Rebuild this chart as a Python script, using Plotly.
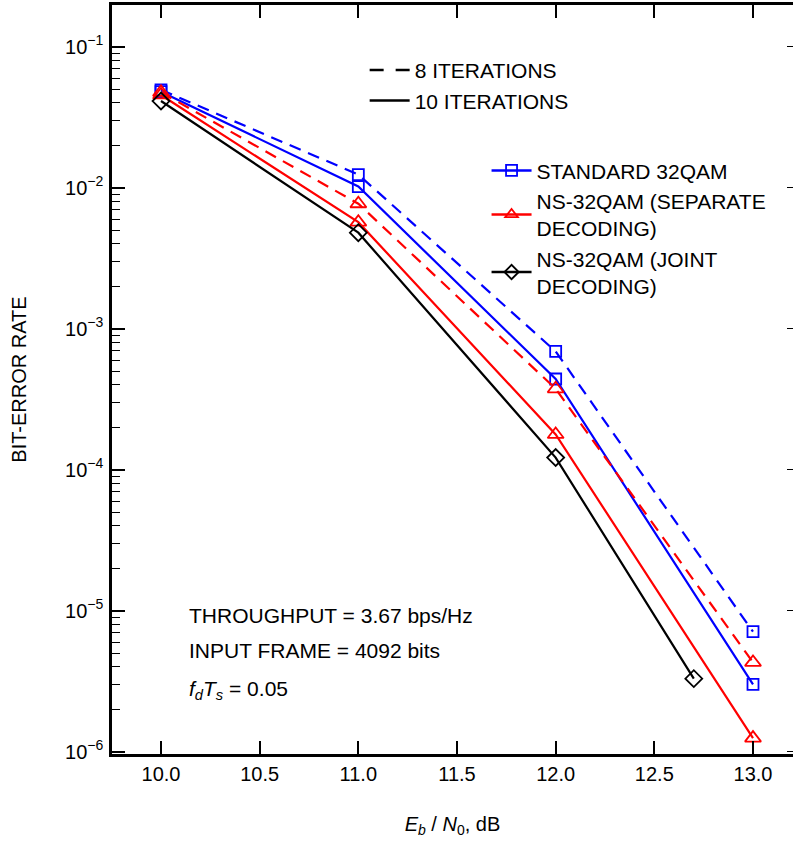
import plotly.graph_objects as go

# Eb/N0 (dB) and BER values
ebn0 = [10.0, 11.0, 12.0, 13.0]
ebn0_joint = [10.0, 11.0, 12.0, 12.7]

std_8 = [0.0495, 0.0124, 6.9e-4, 7.1e-6]
std_10 = [0.0480, 0.0102, 4.4e-4, 3.0e-6]
sep_8 = [0.0475, 0.0077, 3.75e-4, 4.3e-6]
sep_10 = [0.0455, 0.0057, 1.78e-4, 1.25e-6]
joint_10 = [0.0412, 0.0048, 1.22e-4, 3.3e-6]

y_tickvals = [1e-1, 1e-2, 1e-3, 1e-4, 1e-5, 1e-6]
y_ticktext = ["10<sup>−1</sup>", "10<sup>−2</sup>", "10<sup>−3</sup>",
              "10<sup>−4</sup>", "10<sup>−5</sup>", "10<sup>−6</sup>"]
x_tickvals = [10.0, 10.5, 11.0, 11.5, 12.0, 12.5, 13.0]
x_ticktext = ["10.0", "10.5", "11.0", "11.5", "12.0", "12.5", "13.0"]

BLUE = "#0000ff"
RED = "#ff0000"
BLACK = "#000000"
FONT = "Liberation Sans, Arial, Helvetica, sans-serif"
DASH = "12px,8px"

fig = go.Figure()


def add_curve(x, y, color, symbol, size, dash):
    fig.add_trace(go.Scatter(
        x=x, y=y, mode="lines+markers", showlegend=False,
        line=dict(color=color, width=2.2, dash=dash),
        marker=dict(symbol=symbol, size=size, color=color,
                    line=dict(color=color, width=1.8)),
    ))


add_curve(ebn0, std_8, BLUE, "square-open", 11, DASH)
add_curve(ebn0, std_10, BLUE, "square-open", 11, "solid")
add_curve(ebn0, sep_8, RED, "triangle-up-open", 14, DASH)
add_curve(ebn0, sep_10, RED, "triangle-up-open", 14, "solid")
add_curve(ebn0_joint, joint_10, BLACK, "diamond-open", 13, "solid")

# legend entries: iterations (line style)
for name, dash in [("8 ITERATIONS", "14px,12px"), ("10 ITERATIONS", "solid")]:
    fig.add_trace(go.Scatter(
        x=[None], y=[None], mode="lines", name=name, legend="legend",
        line=dict(color=BLACK, width=2.5, dash=dash),
    ))

# legend entries: schemes (colour/marker)
for name, color, symbol in [
    ("STANDARD 32QAM", BLUE, "square-open"),
    ("NS-32QAM (SEPARATE<br>DECODING)", RED, "triangle-up-open"),
    ("NS-32QAM (JOINT<br>DECODING)", BLACK, "diamond-open"),
]:
    fig.add_trace(go.Scatter(
        x=[None], y=[None], mode="lines+markers", name=name, legend="legend2",
        line=dict(color=color, width=2.5),
        marker=dict(symbol=symbol, size=11, color=color,
                    line=dict(color=color, width=1.8)),
    ))

# top and right tick-only axes
fig.add_trace(go.Scatter(x=[None], y=[None], xaxis="x2", yaxis="y2",
                         showlegend=False, hoverinfo="skip"))

x_range = [9.7517, 13.2027]
y_range = [-6.016, -0.704]

tick_font = dict(family=FONT, size=20, color=BLACK)
text_font = dict(family=FONT, size=21, color=BLACK)

fig.update_layout(
    width=793, height=841,
    margin=dict(l=112, r=0, t=5, b=87),
    paper_bgcolor="white", plot_bgcolor="white",
    font=text_font,
    xaxis=dict(
        range=x_range, tickvals=x_tickvals, ticktext=x_ticktext,
        ticks="inside", ticklen=13, tickwidth=1.5, tickcolor=BLACK,
        showline=True, linecolor=BLACK, linewidth=2.5, tickfont=tick_font,
        showgrid=False, zeroline=False, ticklabelstandoff=0, automargin=False,
        title=dict(text="<i>E<sub>b</sub></i> / <i>N</i><sub>0</sub>, dB",
                   font=tick_font, standoff=34),
    ),
    yaxis=dict(
        type="log", range=y_range, tickvals=y_tickvals, ticktext=y_ticktext,
        ticks="inside", ticklen=13, tickwidth=1.5, tickcolor=BLACK,
        minor=dict(ticks="inside", ticklen=8, tickwidth=1.2, tickcolor=BLACK,
                   dtick="D1", showgrid=False),
        showline=True, linecolor=BLACK, linewidth=2.5, tickfont=tick_font,
        showgrid=False, zeroline=False, ticklabelstandoff=2, automargin=False,
        title=dict(text="BIT-ERROR RATE", font=tick_font, standoff=34),
    ),
    xaxis2=dict(
        overlaying="x", side="top", range=x_range, tickvals=x_tickvals,
        showticklabels=False, ticks="inside", ticklen=13, tickwidth=1.5,
        tickcolor=BLACK, showline=True, linecolor=BLACK, linewidth=2.5,
        showgrid=False, zeroline=False, automargin=False,
    ),
    yaxis2=dict(
        overlaying="y", side="right", type="log", range=y_range,
        tickvals=y_tickvals, showticklabels=False, ticks="inside",
        ticklen=6, tickwidth=1.2, tickcolor=BLACK, showline=False,
        showgrid=False, zeroline=False, automargin=False,
    ),
    legend=dict(
        x=0.371, y=0.94, xanchor="left", yanchor="top",
        bgcolor="rgba(0,0,0,0)", font=text_font, tracegroupgap=0,
        itemwidth=40,
    ),
    legend2=dict(
        x=0.55, y=0.806, xanchor="left", yanchor="top",
        bgcolor="rgba(0,0,0,0)", font=text_font, tracegroupgap=0,
        itemwidth=40,
    ),
)

# parameter notes
notes = [
    ("THROUGHPUT = 3.67 bps/Hz", 615),
    ("INPUT FRAME = 4092 bits", 650),
    ("<i>f<sub>d</sub>T<sub>s</sub></i> = 0.05", 690),
]
for text, ypix in notes:
    fig.add_annotation(
        text=text, xref="paper", yref="paper",
        x=(187 - 112) / 681, y=(754 - ypix) / 749,
        xanchor="left", yanchor="middle", showarrow=False, font=text_font,
    )

# drop the default page margin so the figure sits at the window origin
fig.write_html("out.html", config={"displayModeBar": False},
               post_script="document.body.style.margin='0px';")
